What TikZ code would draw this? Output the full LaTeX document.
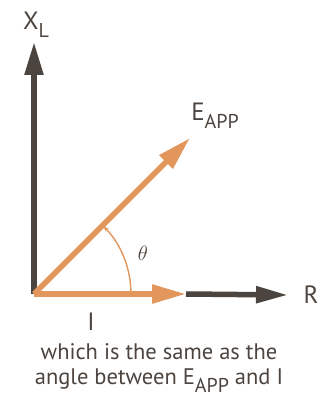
\documentclass[tikz,border=0pt]{standalone}
\usepackage{fontspec}
\setmainfont{PT Sans}
\usetikzlibrary{arrows.meta}

\definecolor{vecorange}{RGB}{226,150,92}
\definecolor{axisgray}{RGB}{76,68,62}

\newcommand{\lowsub}[1]{\raisebox{-0.32em}{\fontsize{20}{20}\selectfont #1}}

\begin{document}
\begin{tikzpicture}
 [x=1pt,y=1pt,
  axis arrow/.style={line width=5.5pt, draw=axisgray, -{Triangle[length=33pt,width=18pt]}},
  vec arrow/.style={line width=5.5pt, draw=vecorange, -{Triangle[length=34pt,width=18pt]}},
  label node/.style={text=axisgray, font=\fontsize{25}{25}\selectfont, inner sep=0pt},
  note node/.style={text=axisgray, font=\fontsize{22.5}{25}\selectfont, align=center, inner sep=0pt}]

 \useasboundingbox (0,0) rectangle (320,397);

 \coordinate (O) at (34,103);
 \coordinate (xl) at (34,355);
 \coordinate (iend) at (186,103);
 \coordinate (r) at (288,102);
 \coordinate (eapp) at (190,259);
 \coordinate (arcstart) at (131,103);

 \node[label node] (xllabel) at (36,372) {X\lowsub{L}};
 \node[label node] (rlabel) at (311,102) {R};
 \node[label node] (eapplabel) at (215,281) {E\lowsub{APP}};
 \node[label node] (ilabel) at (91,75) {I};
 \node[text=axisgray, font=\fontsize{20}{20}\selectfont] (theta) at (143,144) {$\theta$};

 \node[note node] (note) at (159,29) {which is the same as the\\angle between E\lowsub{APP} and I};

 \path
  (O) edge [axis arrow] (xl)
  (iend) edge [axis arrow, -{Triangle[length=32pt,width=16pt]}] (r)
  (O) edge [vec arrow] (iend)
  (O) edge [vec arrow] (eapp);

 \draw[vecorange, line width=1.4pt, -{Stealth[length=6pt,width=4pt]}] (arcstart) arc [start angle=0, end angle=44.5, radius=97];

\end{tikzpicture}
\end{document}
